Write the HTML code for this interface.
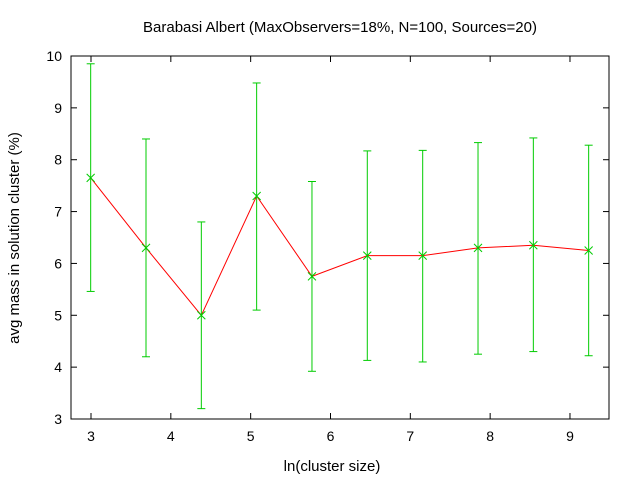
<!DOCTYPE html>
<html><head><meta charset="utf-8"><style>
html,body{margin:0;padding:0;background:#fff;}
svg{display:block;font-family:"Liberation Sans",sans-serif;}
</style></head><body>
<svg id="chart" width="640" height="480">
<rect width="640" height="480" fill="#fff"/>
<text x="340" y="32" font-size="15" text-anchor="middle">Barabasi Albert (MaxObservers=18%, N=100, Sources=20)</text>
<text x="332" y="471" font-size="15" text-anchor="middle">ln(cluster size)</text>
<text x="19" y="238" font-size="15" text-anchor="middle" transform="rotate(-90 19 238)">avg mass in solution cluster (%)</text>
<g id="axes"></g>
<g id="marks"></g>
</svg>
<script>
const xs = [2.996, 3.689, 4.382, 5.075, 5.768, 6.461, 7.155, 7.848, 8.541, 9.234];
const means = [7.65, 6.3, 5.0, 7.3, 5.75, 6.15, 6.15, 6.3, 6.35, 6.25];
const uppers = [9.85, 8.4, 6.8, 9.48, 7.58, 8.17, 8.18, 8.33, 8.42, 8.28];
const lowers = [5.46, 4.2, 3.2, 5.1, 3.92, 4.13, 4.1, 4.25, 4.3, 4.22];
const xTicks = [3, 4, 5, 6, 7, 8, 9];
const yTicks = [3, 4, 5, 6, 7, 8, 9, 10];

const L=71,R=609,T=56,B=419;
const sx=v=>91+(v-3)*79.83;
const sy=v=>B-(v-3)*(B-T)/7;
const NS='http://www.w3.org/2000/svg';
function mk(tag,attrs,parent){const e=document.createElementNS(NS,tag);for(const k in attrs)e.setAttribute(k,attrs[k]);parent.appendChild(e);return e;}
const axes=document.getElementById('axes'), marks=document.getElementById('marks');
const frame=mk('rect',{x:L,y:T,width:R-L,height:B-T,fill:'none',stroke:'#000','stroke-width':1},axes);


xTicks.forEach(t=>{
  const x=sx(t);
  mk('line',{x1:x,y1:B,x2:x,y2:B-6,stroke:'#000'},axes);
  mk('line',{x1:x,y1:T,x2:x,y2:T+6,stroke:'#000'},axes);
  const tx=mk('text',{x:x,y:B+22,'font-size':14,'text-anchor':'middle'},axes);
  tx.textContent=t;
  
  
});
yTicks.forEach(t=>{
  const y=sy(t);
  mk('line',{x1:L,y1:y,x2:L+6,y2:y,stroke:'#000'},axes);
  mk('line',{x1:R,y1:y,x2:R-6,y2:y,stroke:'#000'},axes);
  const tx=mk('text',{x:L-9,y:y+5,'font-size':14,'text-anchor':'end'},axes);
  tx.textContent=t;
  
  
});
const pl=mk('polyline',{points:xs.map((v,i)=>sx(v)+','+sy(means[i])).join(' '),fill:'none',stroke:'#f00','stroke-width':1},marks);


xs.forEach((v,i)=>{
  const x=sx(v), yu=sy(uppers[i]), yl=sy(lowers[i]), ym=sy(means[i]);
  const g=mk('g',{stroke:'#0c0','stroke-width':1},marks);
  
  
  mk('line',{x1:x,y1:yu,x2:x,y2:yl},g);
  mk('line',{x1:x-4,y1:yu,x2:x+4,y2:yu},g);
  mk('line',{x1:x-4,y1:yl,x2:x+4,y2:yl},g);
  const p=mk('g',{stroke:'#0c0','stroke-width':1},marks);
  
  
  mk('line',{x1:x-4,y1:ym-4,x2:x+4,y2:ym+4},p);
  mk('line',{x1:x-4,y1:ym+4,x2:x+4,y2:ym-4},p);
});
</script>
</body></html>
